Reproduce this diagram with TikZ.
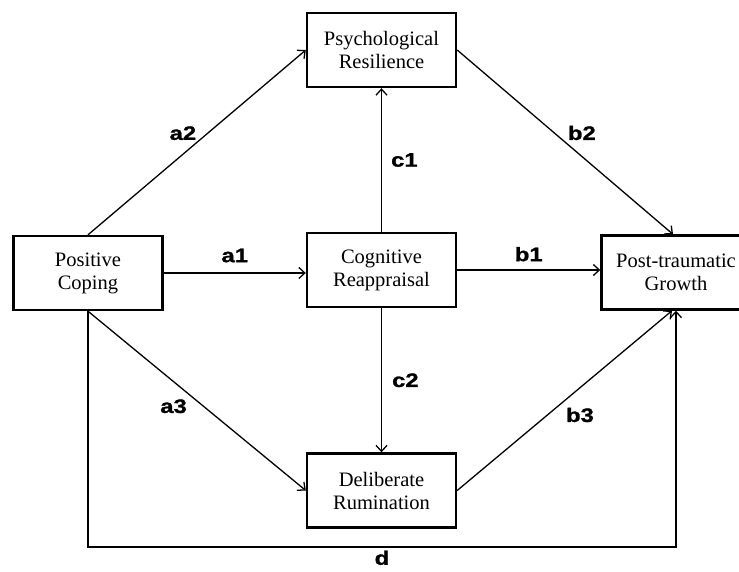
\documentclass[tikz,border=0pt]{standalone}
\usepackage{fontspec}
\setmainfont{Liberation Serif}
\newfontfamily\lblfont[FakeStretch=1.22,BoldFeatures={FakeBold=1.2}]{Liberation Sans}
\usetikzlibrary{arrows.meta}

\begin{document}
\begin{tikzpicture}[x=1pt,y=-1pt]
	\tikzset{VarStyle/.style =
	{draw,
		shape = rectangle,
		%fill = gray!10,
		line width = 2.4pt,
		minimum width = 149pt,
		minimum height = 74pt,
		inner sep = 0pt,
		align = center,
		font = \fontsize{20.5}{23}\selectfont},
	PathStyle/.style = {line width = 1.3pt,
		-{Straight Barb[length=6pt,width=11pt]}},
	CoefStyle/.style = {inner sep = 0pt,
		font = \lblfont\bfseries\fontsize{19.5}{19.5}\selectfont}}
\useasboundingbox (0,0) rectangle (739,572);

\node[VarStyle] (PR)  at (381.5,50)  {Psychological\\Resilience};
\node[VarStyle] (PC)  at (88,273)    {Positive\\Coping};
\node[VarStyle] (CR)  at (381.5,270) {Cognitive\\Reappraisal};
\node[VarStyle] (PTG) at (676,272.5) {Post-traumatic\\Growth};
\node[VarStyle] (DR)  at (381.5,490.5) {Deliberate\\Rumination};

\draw[PathStyle] (PC.east) -- node[CoefStyle, above=10pt] {a1} (PC.east -| CR.west);
\draw[PathStyle] (PC.north) -- node[CoefStyle, pos=0.55, left=11pt] {a2} (PR.west);
\draw[PathStyle] (PC.south) -- node[CoefStyle, pos=0.53, left=16pt] {a3} (DR.west);
\draw[PathStyle] (CR.east) -- node[CoefStyle, above=8pt] {b1} (CR.east -| PTG.west);
\draw[PathStyle] (PR.east) -- node[CoefStyle, pos=0.45, right=13pt] {b2} ([xshift=-3pt]PTG.north);
\draw[PathStyle] (DR.east) -- node[CoefStyle, pos=0.42, right=18pt] {b3} ([xshift=-4pt]PTG.south);
\draw[PathStyle] (CR.north) -- node[CoefStyle, right=9pt] {c1} (PR.south);
\draw[PathStyle] (CR.south) -- node[CoefStyle, right=10pt] {c2} (DR.north);
%\draw[PathStyle] (PC.south) -- ++(0,276) -| (PTG.south);
\coordinate (dturn) at (PTG.south |- 0,547);
\draw[PathStyle] (PC.south) |- node[CoefStyle, pos=0.75, below=3pt] {d} (dturn) -- (PTG.south);

\end{tikzpicture}
\end{document}
